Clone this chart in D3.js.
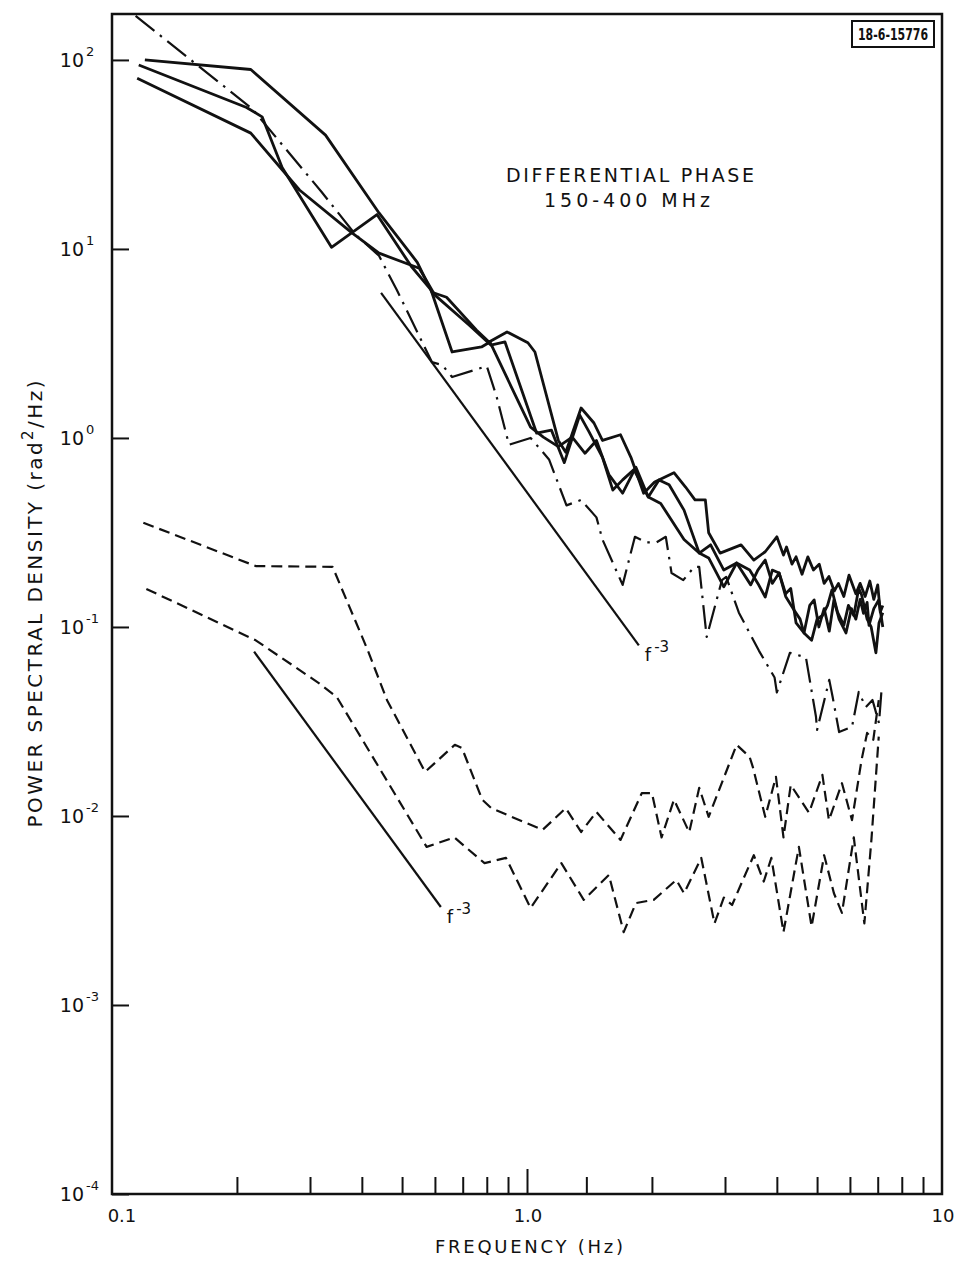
<!DOCTYPE html>
<html lang="en">
<head>
  <meta charset="UTF-8">
  <script src="https://d3js.org/d3.v7.min.js"></script>
  <style>
    body {
      margin: 0;
      background: #fff;
    }

    svg {
      display: block;
    }

    .lettering {
      font-family: "DejaVu Sans", "Liberation Sans", sans-serif;
      fill: #111;
    }

    .curve {
      fill: none;
      stroke: #111;
      stroke-linejoin: round;
    }

    .axis path {
      display: none;
    }

    .axis line {
      stroke: #111;
      stroke-width: 2;
    }
  </style>
</head>
<body>
  <div id="chart"></div>

  <script>
    // frequency (Hz), power spectral density (rad^2/Hz)
    var spectrumA = [[0.12, 100], [0.216, 89], [0.327, 40], [0.44, 15.5], [0.544, 8.5], [0.59, 5.9], [0.64, 5.55],
      [0.755, 3.73], [0.81, 3.22], [0.895, 3.64], [1.005, 3.19], [1.045, 2.85], [1.19, 0.97], [1.24, 0.84], [1.35, 1.44],
      [1.45, 1.2], [1.52, 0.97], [1.68, 1.04], [1.78, 0.79], [1.91, 0.51], [2.03, 0.585], [2.26, 0.655], [2.41, 0.55],
      [2.54, 0.47], [2.69, 0.47], [2.74, 0.315], [2.92, 0.246], [3.28, 0.272], [3.52, 0.226], [3.75, 0.25], [4.0, 0.30],
      [4.15, 0.24], [4.22, 0.265], [4.35, 0.215], [4.45, 0.235], [4.6, 0.19], [4.75, 0.235], [4.9, 0.2], [5.06, 0.215],
      [5.2, 0.17], [5.34, 0.185], [5.5, 0.155], [5.63, 0.17], [5.8, 0.145], [5.97, 0.188], [6.2, 0.15], [6.35, 0.17],
      [6.53, 0.145], [6.7, 0.175], [6.85, 0.14], [7.0, 0.167], [7.1, 0.12], [7.2, 0.13]];

    var spectrumB = [[0.116, 94], [0.211, 56], [0.23, 50], [0.257, 27], [0.338, 10.2], [0.435, 15.2], [0.526, 8.1],
      [0.587, 6.07], [0.66, 2.85], [0.777, 3.03], [0.814, 3.22], [1.02, 1.14], [1.095, 1.01], [1.19, 0.9], [1.285, 1.01],
      [1.38, 0.83], [1.47, 0.97], [1.575, 0.64], [1.70, 0.51], [1.83, 0.70], [1.96, 0.487], [2.08, 0.60], [2.2, 0.565],
      [2.39, 0.415], [2.6, 0.246], [2.77, 0.272], [2.98, 0.20], [3.2, 0.218], [3.46, 0.167], [3.6, 0.2], [3.75, 0.226],
      [3.9, 0.17], [4.05, 0.193], [4.2, 0.15], [4.32, 0.16], [4.45, 0.105], [4.65, 0.093], [4.8, 0.13], [4.92, 0.139],
      [5.05, 0.1], [5.2, 0.125], [5.35, 0.095], [5.49, 0.139], [5.65, 0.11], [5.87, 0.093], [6.05, 0.125], [6.2, 0.11],
      [6.35, 0.14], [6.47, 0.118], [6.6, 0.135], [6.67, 0.102], [6.85, 0.125], [7.04, 0.139], [7.2, 0.1]];

    var spectrumC = [[0.115, 80], [0.216, 41], [0.283, 20.5], [0.378, 12.2], [0.44, 9.5], [0.55, 7.9], [0.60, 5.7],
      [0.725, 3.96], [0.818, 3.1], [0.885, 3.22], [1.055, 1.06], [1.145, 1.1], [1.23, 0.74], [1.34, 1.32], [1.41, 1.08],
      [1.52, 0.79], [1.61, 0.53], [1.70, 0.60], [1.81, 0.68], [1.96, 0.487], [2.1, 0.45], [2.39, 0.29], [2.6, 0.246],
      [2.74, 0.232], [2.98, 0.163], [3.2, 0.218], [3.44, 0.20], [3.6, 0.17], [3.75, 0.144], [3.9, 0.2], [4.05, 0.193],
      [4.2, 0.145], [4.4, 0.123], [4.55, 0.11], [4.65, 0.093], [4.85, 0.085], [5.0, 0.11], [5.15, 0.115], [5.3, 0.13],
      [5.43, 0.157], [5.6, 0.12], [5.8, 0.102], [5.95, 0.13], [6.13, 0.115], [6.3, 0.16], [6.4, 0.148], [6.6, 0.11],
      [6.75, 0.1], [6.93, 0.073], [7.05, 0.105], [7.2, 0.119]];

    var spectrumDashDot = [[0.114, 171], [0.218, 55], [0.32, 20], [0.385, 12], [0.44, 9.2], [0.485, 6.1], [0.59, 2.52],
      [0.625, 2.43], [0.66, 2.1], [0.80, 2.4], [0.845, 1.65], [0.905, 0.92], [1.02, 1.0], [1.13, 0.77], [1.245, 0.44],
      [1.35, 0.47], [1.47, 0.38], [1.52, 0.29], [1.70, 0.167], [1.82, 0.30], [1.94, 0.28], [2.05, 0.28], [2.16, 0.30],
      [2.23, 0.193], [2.38, 0.177], [2.53, 0.208], [2.6, 0.208], [2.71, 0.0885], [2.95, 0.177], [3.02, 0.184],
      [3.24, 0.119], [3.62, 0.075], [3.95, 0.054], [4.0, 0.045], [4.3, 0.073], [4.7, 0.069], [4.97, 0.0335],
      [5.0, 0.0285], [5.35, 0.0525], [5.45, 0.0427], [5.65, 0.0278], [6.07, 0.0296], [6.3, 0.0453], [6.55, 0.0377],
      [6.8, 0.0411], [7.05, 0.031], [7.15, 0.0465]];

    var noiseUpper = [[0.119, 0.356], [0.222, 0.21], [0.34, 0.208], [0.413, 0.0756], [0.46, 0.041], [0.568, 0.0171],
      [0.67, 0.0238], [0.697, 0.0229], [0.78, 0.0122], [0.82, 0.011], [1.09, 0.00844], [1.24, 0.011], [1.35, 0.00823],
      [1.47, 0.0105], [1.68, 0.00747], [1.89, 0.0132], [2.0, 0.0132], [2.11, 0.0077], [2.26, 0.0122], [2.46, 0.0082],
      [2.6, 0.0141], [2.74, 0.0099], [3.2, 0.0238], [3.44, 0.0205], [3.5, 0.0182], [3.75, 0.0099], [3.98, 0.0161],
      [4.15, 0.0077], [4.32, 0.0146], [4.78, 0.0104], [5.15, 0.0165], [5.34, 0.0095], [5.74, 0.0149], [6.07, 0.0095],
      [6.4, 0.0198], [6.6, 0.0275], [6.83, 0.0253], [7.04, 0.041]];

    var noiseLower = [[0.121, 0.159], [0.222, 0.085], [0.315, 0.0505], [0.348, 0.0426], [0.573, 0.00686], [0.668, 0.0077],
      [0.79, 0.00563], [0.89, 0.006], [1.02, 0.00326], [1.21, 0.00563], [1.37, 0.0036], [1.575, 0.00487], [1.71, 0.00243],
      [1.83, 0.00346], [2.02, 0.0036], [2.29, 0.00459], [2.39, 0.0039], [2.63, 0.006], [2.83, 0.0027], [2.98, 0.0037],
      [3.12, 0.00338], [3.3, 0.0045], [3.52, 0.0062], [3.72, 0.0045], [3.88, 0.006], [4.15, 0.00243], [4.52, 0.00686],
      [4.85, 0.0026], [5.2, 0.0062], [5.49, 0.0039], [5.74, 0.00307], [6.13, 0.0077], [6.5, 0.0027], [6.76, 0.0075],
      [7.04, 0.0263]];

    // f^-3 reference slopes, end points
    var slopeUpper = [[0.445, 5.85], [1.86, 0.080]];
    var slopeLower = [[0.22, 0.074], [0.62, 0.0033]];

    var yDecades = [1e-4, 1e-3, 1e-2, 1e-1, 1, 10, 100];
    var yExponents = ["-4", "-3", "-2", "-1", "0", "1", "2"];
    var xMinorTicks = [0.2, 0.3, 0.4, 0.5, 0.6, 0.7, 0.8, 0.9, 1.39, 2, 3, 4, 5, 6, 7, 8, 9];
    var xLabels = [[0.1, "0.1"], [1, "1.0"], [10, "10"]];

    var width = 956;
    var height = 1261;
    var plotLeft = 112, plotRight = 942, plotTop = 14, plotBottom = 1194;

    var svg = d3.select("#chart")
      .append("svg")
      .attr("width", width)
      .attr("height", height);

    var x = d3.scaleLog().domain([0.1, 10]).range([plotLeft, plotRight]);
    var y = d3.scaleLog().domain([1e-4, 175]).range([plotBottom, plotTop]);

    var line = d3.line()
      .x(function (d) { return x(d[0]); })
      .y(function (d) { return y(d[1]); });

    // ticks, pointing inward
    svg.append("g")
      .attr("class", "axis")
      .attr("transform", "translate(0," + plotBottom + ")")
      .call(d3.axisTop(x).tickValues(xMinorTicks).tickSize(17).tickFormat(""));

    svg.append("g")
      .attr("class", "axis")
      .attr("transform", "translate(0," + plotBottom + ")")
      .call(d3.axisTop(x).tickValues([1]).tickSize(25).tickFormat(""));

    svg.append("g")
      .attr("class", "axis")
      .attr("transform", "translate(" + plotLeft + ",0)")
      .call(d3.axisRight(y).tickValues(yDecades).tickSize(17).tickFormat(""));

    // frame
    svg.append("rect")
      .attr("x", plotLeft)
      .attr("y", plotTop)
      .attr("width", plotRight - plotLeft)
      .attr("height", plotBottom - plotTop)
      .attr("fill", "none")
      .attr("stroke", "#111")
      .attr("stroke-width", 2.5);

    // tick labels
    svg.selectAll(".ylab")
      .data(yDecades)
      .enter()
      .append("text")
      .attr("class", "lettering ylab")
      .attr("x", 84)
      .attr("y", function (d) { return y(d) + 7; })
      .attr("text-anchor", "end")
      .style("font-size", "19px")
      .text("10");

    svg.selectAll(".yexp")
      .data(yDecades)
      .enter()
      .append("text")
      .attr("class", "lettering yexp")
      .attr("x", 86)
      .attr("y", function (d) { return y(d) - 4; })
      .style("font-size", "13px")
      .text(function (d, i) { return yExponents[i]; });

    svg.selectAll(".xlab")
      .data(xLabels)
      .enter()
      .append("text")
      .attr("class", "lettering xlab")
      .attr("x", function (d) { return x(d[0]) + (d[0] === 0.1 ? 10 : 1); })
      .attr("y", 1222)
      .attr("text-anchor", "middle")
      .style("font-size", "18px")
      .text(function (d) { return d[1]; });

    // axis titles
    svg.append("text")
      .attr("class", "lettering")
      .attr("x", 529)
      .attr("y", 1253)
      .attr("text-anchor", "middle")
      .attr("textLength", 188)
      .attr("lengthAdjust", "spacing")
      .style("font-size", "18px")
      .text("FREQUENCY (Hz)");

    var yTitle = svg.append("text")
      .attr("class", "lettering")
      .attr("transform", "translate(42,604) rotate(-90)")
      .attr("text-anchor", "middle")
      .attr("textLength", 447)
      .attr("lengthAdjust", "spacing")
      .style("font-size", "20px");
    yTitle.append("tspan").text("POWER SPECTRAL DENSITY (rad");
    yTitle.append("tspan").attr("dy", -9).style("font-size", "15px").text("2");
    yTitle.append("tspan").attr("dy", 9).text("/Hz)");

    // reference slopes
    [slopeUpper, slopeLower].forEach(function (s) {
      svg.append("path")
        .datum(s)
        .attr("class", "curve")
        .attr("stroke-width", 2.2)
        .attr("d", line);

      var end = s[1];
      var lab = svg.append("text")
        .attr("class", "lettering")
        .attr("x", x(end[0]) + 6)
        .attr("y", y(end[1]) + 16)
        .style("font-size", "18px");
      lab.append("tspan").text("f");
      lab.append("tspan").attr("dy", -9).attr("dx", 3).style("font-size", "15px").text("-3");
    });

    // spectra
    [spectrumA, spectrumB, spectrumC].forEach(function (s) {
      svg.append("path")
        .datum(s)
        .attr("class", "curve")
        .attr("stroke-width", 2.8)
        .attr("d", line);
    });

    svg.append("path")
      .datum(spectrumDashDot)
      .attr("class", "curve")
      .attr("stroke-width", 2.2)
      .attr("stroke-dasharray", "24,7,2.5,7")
      .attr("d", line);

    [noiseUpper, noiseLower].forEach(function (s) {
      svg.append("path")
        .datum(s)
        .attr("class", "curve")
        .attr("stroke-width", 2.2)
        .attr("stroke-dasharray", "11,6")
        .attr("d", line);
    });

    // annotation
    svg.append("text")
      .attr("class", "lettering")
      .attr("x", 630)
      .attr("y", 182)
      .attr("text-anchor", "middle")
      .attr("textLength", 248)
      .attr("lengthAdjust", "spacing")
      .style("font-size", "19px")
      .text("DIFFERENTIAL PHASE");

    svg.append("text")
      .attr("class", "lettering")
      .attr("x", 627)
      .attr("y", 207)
      .attr("text-anchor", "middle")
      .attr("textLength", 166)
      .attr("lengthAdjust", "spacing")
      .style("font-size", "19px")
      .text("150-400 MHz");

    // drawing number box
    svg.append("rect")
      .attr("x", 852)
      .attr("y", 21)
      .attr("width", 82)
      .attr("height", 26)
      .attr("fill", "#fff")
      .attr("stroke", "#111")
      .attr("stroke-width", 2);

    svg.append("text")
      .attr("class", "lettering")
      .attr("x", 893)
      .attr("y", 40)
      .attr("text-anchor", "middle")
      .attr("textLength", 70)
      .attr("lengthAdjust", "spacingAndGlyphs")
      .style("font-size", "15px")
      .style("font-weight", "bold")
      .text("18-6-15776");
  </script>
</body>
</html>
